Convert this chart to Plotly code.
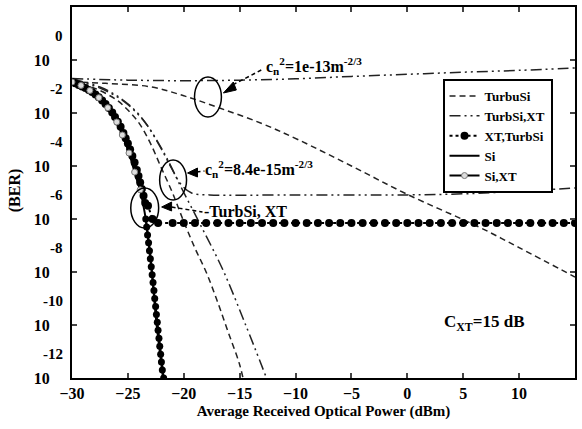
import plotly.graph_objects as go

# ---------------- data (x in dBm, y as log10(BER)) ----------------
x_turbu_13 = [-30, -27, -23, -20, -16.8, -13, -9.7, -5, 0, 6.4, 10, 15]
y_turbu_13 = [-0.83, -0.88, -1.01, -1.35, -1.81, -2.4, -3.02, -4.0, -5.07, -6.30, -7.08, -8.19]

x_turbxt_13 = [-30, -25, -20, -15, -10, -5, 0, 5, 10, 15]
y_turbxt_13 = [-0.70, -0.76, -0.78, -0.76, -0.71, -0.62, -0.54, -0.46, -0.39, -0.30]

x_turbu_84 = [-30, -28, -26, -25, -24, -23, -22, -21, -20, -19, -18, -17, -16, -15, -14.5]
y_turbu_84 = [-0.83, -1.06, -1.51, -1.89, -2.38, -3.13, -4.08, -5.02, -6.1, -7.1, -8.0, -9.1, -10.3, -11.5, -12.4]

x_turbxt_84a = [-30, -27.5, -25.7, -23.9, -21.9, -20.3, -18.5, -16.5, -14.5, -12.6]
y_turbxt_84a = [-0.72, -1.02, -1.43, -2.11, -3.40, -4.75, -6.23, -7.92, -9.96, -12.0]

x_turbxt_84b = [-30, -27.5, -25.3, -23.5, -22.2, -21.1, -20.2, -19.3, -17.7, -10, 0, 5, 10, 15]
y_turbxt_84b = [-0.75, -1.06, -1.58, -2.34, -3.21, -4.08, -4.72, -5.02, -5.09, -5.09, -5.09, -5.05, -4.95, -4.83]

x_si = [-30, -29, -28, -27, -26, -25, -24.5, -24, -23.5, -23, -22.5, -22, -21.6]
y_si = [-0.83, -1.0, -1.28, -1.7, -2.3, -3.3, -3.9, -4.7, -5.75, -7.3, -9.7, -11.5, -12.9]

x_sixt = [-30, -29.2, -28.4, -27.6, -26.8, -26.0, -25.5, -24.9, -24.4, -23.9]
y_sixt = [-0.83, -0.96, -1.15, -1.42, -1.8, -2.34, -2.83, -3.51, -4.23, -4.9]

x_xtturb = [-30, -29.7, -29.4, -29.1, -28.8, -28.5, -28.2, -27.9, -27.6, -27.3, -27.0, -26.7, -26.4,
            -26.15, -25.9, -25.65, -25.4, -25.2, -25.0, -24.8, -24.6, -24.4, -24.2, -24.05, -23.9,
            -23.75, -23.6, -23.45, -23.2, -22.8, -22.3,
            -21, -20, -19, -18, -17, -16, -15, -14, -13, -12, -11, -10, -9, -8, -7, -6, -5,
            -4, -3, -2, -1, 0, 1, 2, 3, 4, 5, 6, 7, 8, 9, 10, 11, 12, 13, 14, 15]
y_xtturb = [-0.83, -0.88, -0.94, -1.0, -1.06, -1.13, -1.21, -1.3, -1.41, -1.53, -1.66, -1.81, -1.98,
            -2.15, -2.33, -2.52, -2.75, -2.95, -3.15, -3.38, -3.62, -3.87, -4.15, -4.38, -4.62,
            -4.87, -5.12, -5.4, -5.5, -6.0, -6.15,
            -6.15, -6.15, -6.15, -6.15, -6.15, -6.15, -6.15, -6.15, -6.15, -6.15, -6.15, -6.15, -6.15,
            -6.15, -6.15, -6.15, -6.15, -6.15, -6.15, -6.15, -6.15, -6.15, -6.15, -6.15, -6.15, -6.15,
            -6.15, -6.15, -6.15, -6.15, -6.15, -6.15, -6.15, -6.15, -6.15, -6.15, -6.15]

x_xt_low = [-23.4, -23.32, -23.24, -23.15, -23.07, -22.99, -22.91, -22.83, -22.75, -22.67, -22.6,
            -22.52, -22.45, -22.37, -22.3, -22.22, -22.15, -22.07, -22.0, -21.92, -21.8]
y_xt_low = [-6.0, -6.3, -6.6, -6.9, -7.2, -7.5, -7.8, -8.1, -8.4, -8.7, -9.0,
            -9.3, -9.6, -9.9, -10.2, -10.5, -10.8, -11.1, -11.4, -11.7, -12.0]

x_ticks = [-30, -25, -20, -15, -10, -5, 0, 5, 10, 15]
y_tick_exp = [0, -2, -4, -6, -8, -10, -12]

# ---------------- layout helpers ----------------
L, R, T, B = 72, 5, 7, 51
W, H = 582, 429
PW, PH = W - L - R, H - T - B


def px(x):
    return (x - L) / PW


def py(y):
    return (H - B - y) / PH


FONT = "Liberation Serif"
DASH = "6px,4px"
DDOT = "11px,4px,2px,4px,2px,4px"


def ber(v):
    return [10 ** e for e in v]


fig = go.Figure()

fig.add_trace(go.Scatter(x=x_turbu_13, y=ber(y_turbu_13), name="TurbuSi", mode="lines",
                         line=dict(color="#222", width=1.5, dash=DASH, shape="spline")))
fig.add_trace(go.Scatter(x=x_turbxt_13, y=ber(y_turbxt_13), name="TurbSi,XT", mode="lines",
                         line=dict(color="#222", width=1.5, dash=DDOT, shape="spline")))
fig.add_trace(go.Scatter(x=x_turbu_84, y=ber(y_turbu_84), name="TurbuSi", mode="lines", showlegend=False,
                         line=dict(color="#222", width=1.5, dash=DASH, shape="spline")))
fig.add_trace(go.Scatter(x=x_turbxt_84a, y=ber(y_turbxt_84a), name="TurbSi,XT", mode="lines", showlegend=False,
                         line=dict(color="#222", width=1.5, dash=DDOT, shape="spline")))
fig.add_trace(go.Scatter(x=x_turbxt_84b, y=ber(y_turbxt_84b), name="TurbSi,XT", mode="lines", showlegend=False,
                         line=dict(color="#222", width=1.5, dash=DDOT, shape="spline")))
fig.add_trace(go.Scatter(x=x_xtturb, y=ber(y_xtturb), name="XT,TurbSi", mode="lines+markers",
                         line=dict(color="black", width=2, dash="dot"),
                         marker=dict(symbol="circle", size=8, color="black")))
fig.add_trace(go.Scatter(x=x_si, y=ber(y_si), name="Si", mode="lines",
                         line=dict(color="black", width=2, shape="spline")))
fig.add_trace(go.Scatter(x=x_sixt, y=ber(y_sixt), name="Si,XT", mode="lines+markers",
                         line=dict(color="black", width=2, shape="spline"),
                         marker=dict(symbol="circle", size=6, color="#ddd",
                                     line=dict(color="#777", width=1))))
fig.add_trace(go.Scatter(x=x_xt_low, y=ber(y_xt_low), name="XT,TurbSi", mode="lines+markers", showlegend=False,
                         line=dict(color="black", width=2),
                         marker=dict(symbol="circle", size=7, color="black")))

shapes = []
# ellipses
for (x0, x1, y0, y1) in [(195, 222, 77, 117), (160, 187, 160, 200), (131, 159, 188, 228)]:
    shapes.append(dict(type="circle", xref="paper", yref="paper", x0=px(x0), x1=px(x1),
                       y0=py(y1), y1=py(y0), line=dict(color="black", width=1.5)))
# leaders
for (xa, ya, xb, yb) in [(262, 70, 235, 84), (197, 172, 205, 171), (172, 207, 203, 212)]:
    shapes.append(dict(type="line", xref="paper", yref="paper", x0=px(xa), y0=py(ya), x1=px(xb), y1=py(yb),
                       line=dict(color="black", width=1.5, dash="4px,3px")))
# arrow heads (triangles)
for pts in [[(224, 93), (234, 82), (237, 90)], [(188, 173), (198, 168), (198, 177)], [(162, 207), (172, 202), (172, 211)]]:
    p = "M {} {} L {} {} L {} {} Z".format(*[v for (a, b) in pts for v in (px(a), py(b))])
    shapes.append(dict(type="path", xref="paper", yref="paper", path=p, fillcolor="black",
                       line=dict(color="black", width=1)))

annotations = []
for e in y_tick_exp:
    annotations.append(dict(x=px(65), y=e + 0.9, xref="paper", yref="y", text=str(e), showarrow=False,
                            xanchor="right", yanchor="middle",
                            font=dict(family=FONT, size=15, color="black", weight="bold")))
annotations += [
    dict(x=px(265), y=py(66), xref="paper", yref="paper", xanchor="left", yanchor="middle", showarrow=False,
         text="c<sub>n</sub><sup>2</sup>=1e-13m<sup>-2/3</sup>",
         font=dict(family=FONT, size=16, color="black", weight="bold")),
    dict(x=px(204), y=py(169), xref="paper", yref="paper", xanchor="left", yanchor="middle", showarrow=False,
         text="c<sub>n</sub><sup>2</sup>=8.4e-15m<sup>-2/3</sup>",
         font=dict(family=FONT, size=16, color="black", weight="bold")),
    dict(x=px(203), y=py(211), xref="paper", yref="paper", xanchor="left", yanchor="middle", showarrow=False,
         text="-TurbSi, XT", font=dict(family=FONT, size=16, color="black", weight="bold")),
    dict(x=px(486), y=py(323), xref="paper", yref="paper", xanchor="center", yanchor="middle", showarrow=False,
         text="C<sub>XT</sub>=15 dB", font=dict(family=FONT, size=17, color="black", weight="bold")),
    dict(x=px(15), y=py(190), xref="paper", yref="paper", xanchor="center", yanchor="middle", showarrow=False,
         text="(BER)", textangle=-90, font=dict(family=FONT, size=16, color="black", weight="bold")),
]

fig.update_layout(
    width=W, height=H, margin=dict(l=L, r=R, t=T, b=B),
    paper_bgcolor="white", plot_bgcolor="white",
    font=dict(family=FONT, size=15, color="black", weight="bold"),
    shapes=shapes, annotations=annotations,
    legend=dict(x=px(444), y=py(79), xanchor="left", yanchor="top", bgcolor="white",
                bordercolor="black", borderwidth=2, font=dict(family=FONT, size=13, weight="bold"),
                tracegroupgap=0, itemwidth=30),
    xaxis=dict(range=[-30, 15], tickvals=x_ticks, ticks="inside", ticklen=5, tickwidth=1.5,
               showline=True, linewidth=2, linecolor="black", mirror="ticks", showgrid=False,
               zeroline=False, ticklabelstandoff=0,
               tickfont=dict(family=FONT, size=16, weight="bold"),
               title=dict(text="Average Received Optical Power (dBm)", standoff=4,
                          font=dict(family=FONT, size=15, weight="bold"))),
    yaxis=dict(type="log", range=[-12, 2], tickvals=[10 ** e for e in y_tick_exp],
               ticktext=["10"] * len(y_tick_exp), ticks="inside", ticklen=5, tickwidth=1.5,
               showline=True, linewidth=2, linecolor="black", mirror="ticks", showgrid=False,
               zeroline=False, ticklabelstandoff=17,
               tickfont=dict(family=FONT, size=16, weight="bold")),
)

fig.write_html("out.html")
